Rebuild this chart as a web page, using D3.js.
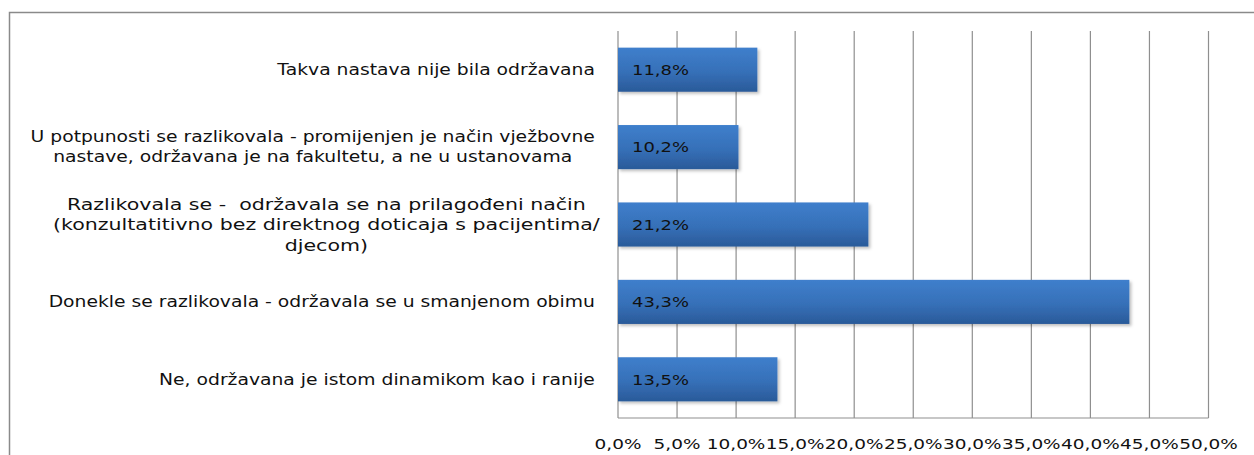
<!DOCTYPE html>
<html>
<head>
<meta charset="utf-8">
<script src="https://cdn.jsdelivr.net/npm/d3@7"></script>
<style>
  body { margin: 0; background: #fff; }
  text { font-family: "DejaVu Sans", Verdana, sans-serif; fill: #111; white-space: pre; }
</style>
</head>
<body>
<div id="chart"></div>
<script>
// categories (top to bottom), each label split into its lines
const categories = [
  ["Takva nastava nije bila održavana"],
  ["U potpunosti se razlikovala - promijenjen je način vježbovne",
   "nastave, održavana je na fakultetu, a ne u ustanovama"],
  ["Razlikovala se -  održavala se na prilagođeni način",
   "(konzultatitivno bez direktnog doticaja s pacijentima/",
   "djecom)"],
  ["Donekle se razlikovala - održavala se u smanjenom obimu"],
  ["Ne, održavana je istom dinamikom kao i ranije"]
];
const values = [11.8, 10.2, 21.2, 43.3, 13.5];
const ticks = [0, 5, 10, 15, 20, 25, 30, 35, 40, 45, 50];

const W = 1254, H = 455;
const plot = { left: 618, right: 1208.5, top: 31, bottom: 418 };
const fmt = v => v.toFixed(1).replace(".", ",") + "%";

const svg = d3.select("#chart").append("svg")
  .attr("width", W).attr("height", H);

// outer chart frame (runs off the right and bottom edge)
svg.append("rect")
  .attr("x", 9.5).attr("y", 12.5)
  .attr("width", W + 20).attr("height", H + 20)
  .attr("fill", "none").attr("stroke", "#8a8a8a").attr("stroke-width", 1.5);

const x = d3.scaleLinear().domain([0, 50]).range([plot.left, plot.right]);
const y = d3.scaleBand().domain(d3.range(categories.length))
  .range([plot.top, plot.bottom]).paddingInner(0.43).paddingOuter(0.215);

// bar gradient
const defs = svg.append("defs");
const grad = defs.append("linearGradient").attr("id", "barGrad")
  .attr("x1", 0).attr("y1", 0).attr("x2", 0).attr("y2", 1);
grad.append("stop").attr("offset", "0%").attr("stop-color", "#3f7fcc");
grad.append("stop").attr("offset", "55%").attr("stop-color", "#3670b8");
grad.append("stop").attr("offset", "100%").attr("stop-color", "#2a5a99");
const shadow = defs.append("filter").attr("id", "shadow")
  .attr("x", "-5%").attr("y", "-20%").attr("width", "115%").attr("height", "150%");
shadow.append("feDropShadow").attr("dx", 2).attr("dy", 2)
  .attr("stdDeviation", 1.5).attr("flood-color", "#000").attr("flood-opacity", 0.25);

// vertical gridlines
svg.append("g").selectAll("line").data(ticks).join("line")
  .attr("x1", d => x(d)).attr("x2", d => x(d))
  .attr("y1", plot.top).attr("y2", plot.bottom)
  .attr("stroke", "#8f8f8f").attr("stroke-width", 1.2);

// bottom axis line
svg.append("line")
  .attr("x1", plot.left).attr("x2", plot.right)
  .attr("y1", plot.bottom).attr("y2", plot.bottom)
  .attr("stroke", "#8f8f8f").attr("stroke-width", 1.2);

// tick labels (drawn wide like the original)
svg.append("g").selectAll("g").data(ticks).join("g")
  .attr("transform", d => `translate(${x(d)},${plot.bottom + 26}) scale(1.32,1)`)
  .append("text")
  .attr("text-anchor", "middle").attr("dy", "0.35em")
  .style("font-size", "14px")
  .text(fmt);

// bars
svg.append("g").selectAll("rect").data(values).join("rect")
  .attr("x", x(0))
  .attr("y", (d, i) => y(i))
  .attr("width", d => x(d) - x(0))
  .attr("height", y.bandwidth())
  .attr("fill", "url(#barGrad)")
  .attr("filter", "url(#shadow)");

// value labels inside bars
svg.append("g").selectAll("g").data(values).join("g")
  .attr("transform", (d, i) => `translate(${x(0) + 14},${y(i) + y.bandwidth() / 2}) scale(1.24,1)`)
  .append("text")
  .attr("dy", "0.36em")
  .style("font-size", "14.5px")
  .text(fmt);

// category labels: right edge near the axis, multi-line blocks centred
categories.forEach((lines, i) => {
  const big = lines.length === 3;
  const fs = big ? 16 : 15;
  const sx = big ? 1.285 : 1.25;
  const lh = big ? 20.5 : 20;
  const right = big ? 600 : 595;
  const cy = y(i) + y.bandwidth() / 2;
  const texts = svg.append("g").selectAll("text").data(lines).join("text")
    .style("font-size", fs + "px")
    .attr("text-anchor", "middle")
    .attr("dy", "0.35em")
    .text(d => d);
  const maxW = d3.max(texts.nodes(), n => n.getComputedTextLength()) * sx;
  const cx = right - maxW / 2;
  texts.attr("transform", (d, k) =>
    `translate(${cx},${cy + (k - (lines.length - 1) / 2) * lh}) scale(${sx},1)`);
});
</script>
</body>
</html>
